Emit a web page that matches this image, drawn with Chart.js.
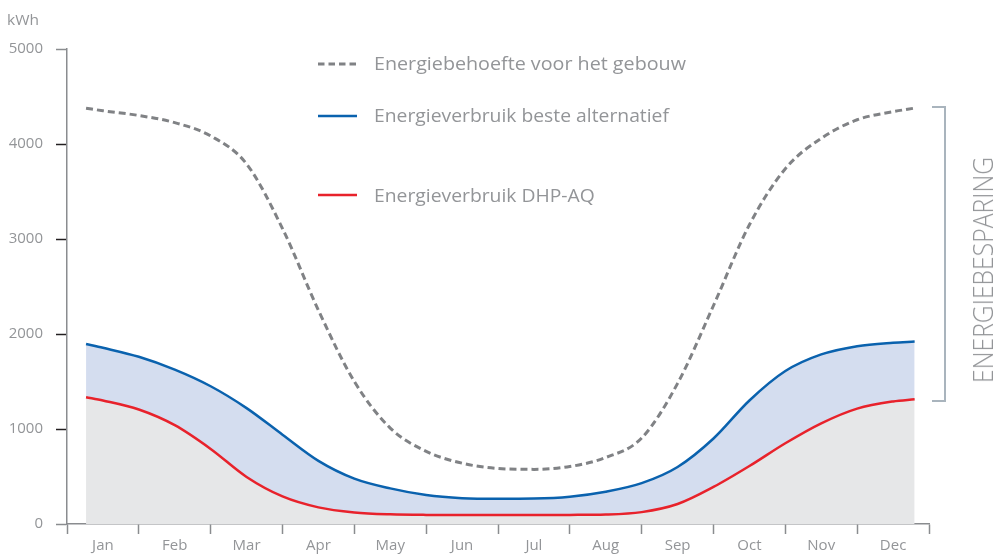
<!DOCTYPE html>
<html><head><meta charset="utf-8">
<script src="https://cdn.jsdelivr.net/npm/chart.js@4.4.1/dist/chart.umd.min.js"></script>
<style>
html,body{margin:0;padding:0;background:#fff;}
#wrap{position:relative;width:1003px;height:554px;overflow:hidden;font-family:'Open Sans',sans-serif;color:#939598;}
canvas{position:absolute;left:0;top:0;}
.t{position:absolute;white-space:nowrap;line-height:1;display:inline-block;transform-origin:0 50%;}
#save{transform-origin:50% 50%;font-weight:300;}
</style></head><body>
<div id="wrap">
<canvas id="c" width="1003" height="554"></canvas>
<div class="t" style="left:7px;top:12px;font-size:15px;" data-w="32">kWh</div>
<div class="t" style="left:374px;top:54px;font-size:18px;" data-w="312">Energiebehoefte voor het gebouw</div>
<div class="t" style="left:374px;top:106px;font-size:18px;" data-w="295">Energieverbruik beste alternatief</div>
<div class="t" style="left:374px;top:186px;font-size:18px;" data-w="221">Energieverbruik DHP-AQ</div>
<div class="t" id="save" style="left:982px;top:270px;font-size:28px;" data-w="226">ENERGIEBESPARING</div>
</div>
<script>
// ---- data (x in month units: 0 = start of Jan, 12 = end of Dec) ----
const months = ['Jan','Feb','Mar','Apr','May','Jun','Jul','Aug','Sep','Oct','Nov','Dec'];
const xPos   = [0.265,0.5,1,1.5,2,2.5,3,3.5,4,4.5,5,5.5,6,6.5,7,7.5,8,8.5,9,9.5,10,10.5,11,11.5,11.8];
const demand = [4376,4350,4300,4225,4085,3790,3110,2250,1500,1010,765,640,585,575,605,700,905,1480,2300,3150,3740,4060,4255,4340,4378];
const bestAlt= [1895,1855,1760,1625,1450,1220,940,665,478,375,305,272,265,268,288,340,430,600,900,1300,1610,1785,1872,1908,1920];
const dhpAq  = [1335,1300,1205,1040,790,495,290,175,122,102,96,95,95,95,96,100,125,210,390,610,850,1060,1215,1290,1312];
const yTicks = [0,1000,2000,3000,4000,5000];
const seriesNames = ['Energiebehoefte voor het gebouw','Energieverbruik beste alternatief','Energieverbruik DHP-AQ'];
const bracketRange = [4390, 1295]; // kWh span marked as "ENERGIEBESPARING"

const pts = arr => arr.map((v,i)=>({x:xPos[i], y:v}));
const GREY = '#939598', AXIS = '#8a8c8f';

const deco = {
  id:'deco',
  afterDraw(chart){
    const ctx = chart.ctx, y = chart.scales.y;
    ctx.save();
    const t = Math.round(y.getPixelForValue(bracketRange[0])), b = Math.round(y.getPixelForValue(bracketRange[1]));
    ctx.strokeStyle = '#a9b4bd'; ctx.lineWidth = 2;
    ctx.beginPath(); ctx.moveTo(932,t); ctx.lineTo(945,t); ctx.lineTo(945,b); ctx.lineTo(932,b); ctx.stroke();
    ctx.lineWidth = 3;
    ctx.strokeStyle = '#808285'; ctx.setLineDash([6.5,4]);
    ctx.beginPath(); ctx.moveTo(318,64); ctx.lineTo(357,64); ctx.stroke();
    ctx.setLineDash([]);
    ctx.strokeStyle = '#0a62ae'; ctx.lineWidth = 2.5;
    ctx.beginPath(); ctx.moveTo(318,116); ctx.lineTo(357,116); ctx.stroke();
    ctx.strokeStyle = '#e8222b';
    ctx.beginPath(); ctx.moveTo(318,195); ctx.lineTo(357,195); ctx.stroke();
    ctx.restore();
  }
};

new Chart(document.getElementById('c'), {
  type:'line',
  data:{ datasets:[
    {label:seriesNames[2], data:pts(dhpAq), borderColor:'#e8222b', borderWidth:2.5, pointRadius:0,
     fill:'origin', backgroundColor:'#e6e7e8', cubicInterpolationMode:'monotone'},
    {label:seriesNames[1], data:pts(bestAlt), borderColor:'#0a62ae', borderWidth:2.5, pointRadius:0,
     fill:'-1', backgroundColor:'#d4ddef', cubicInterpolationMode:'monotone'},
    {label:seriesNames[0], data:pts(demand), borderColor:'#808285', borderWidth:3, borderDash:[7,4], pointRadius:0,
     fill:false, cubicInterpolationMode:'monotone'}
  ]},
  options:{
    responsive:false, animation:false,
    layout:{padding:{left:0,right:74,top:49,bottom:0}},
    plugins:{legend:{display:false}, tooltip:{enabled:false}, filler:{drawTime:'beforeDatasetsDraw'}},
    scales:{
      x:{type:'linear', min:0, max:12,
         afterBuildTicks:s=>{s.ticks = months.concat(['']).map((m,i)=>({value:i}));},
         afterFit:s=>{s.height = 30;},
         grid:{drawOnChartArea:false, drawTicks:true, tickLength:10, tickColor:AXIS, tickWidth:1.5},
         border:{color:AXIS, width:1.5},
         ticks:{color:GREY, font:{family:"'Open Sans', sans-serif", size:15}, padding:3, labelOffset:35.9,
                maxRotation:0, autoSkip:false, callback:(v)=>months[v] ?? ''}},
      y:{min:0, max:5000,
         afterBuildTicks:s=>{s.ticks = yTicks.map(v=>({value:v}));},
         afterFit:s=>{s.width = 67;},
         grid:{drawOnChartArea:false, drawTicks:true, tickLength:11, tickWidth:1.5,
               tickColor:c=> (c.tick && (c.tick.value===0 || c.tick.value===5000)) ? AXIS : '#231f20'},
         border:{color:AXIS, width:1.5},
         ticks:{color:GREY, font:{family:"'Open Sans', sans-serif", size:15}, padding:13, callback:v=>String(v)}}
    }
  },
  plugins:[deco]
});

document.querySelectorAll('.t[data-w]').forEach(el=>{
  const w = el.offsetWidth, target = +el.dataset.w;
  const k = target / w;
  if (el.id === 'save') el.style.transform = `translate(-50%,-50%) rotate(-90deg) scaleX(${k})`;
  else el.style.transform = `scaleX(${k})`;
});
</script>
</body></html>
